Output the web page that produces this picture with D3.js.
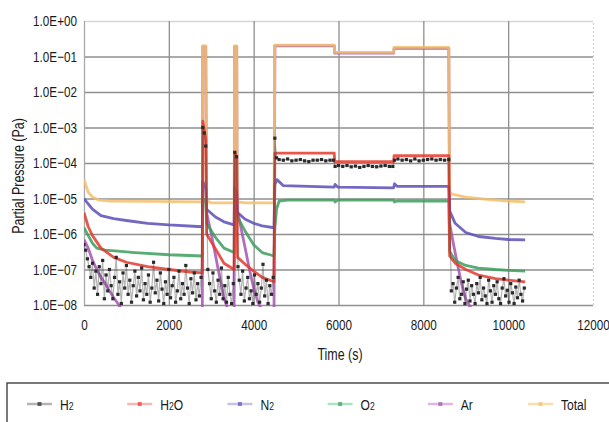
<!DOCTYPE html>
<meta charset="utf-8">
<style>
body { margin: 0; background: #fff; }
svg { font-family: "Liberation Sans", Arial, sans-serif; }
.tick text { font-size: 15px; fill: #1a1a1a; }
.grid line { stroke: #8f8f8f; stroke-width: 1.3; }
.grid path { display: none; }
.axis path { display: none; }
</style>
<body>
<script src="https://cdn.jsdelivr.net/npm/d3@7"></script>
<script>

// ---------------- data ----------------
var xTicks = [0, 2000, 4000, 6000, 8000, 10000, 12000];
var yTicks = [1, 1e-1, 1e-2, 1e-3, 1e-4, 1e-5, 1e-6, 1e-7, 1e-8];
var yTickLabels = ["1.0E+00", "1.0E\u221201", "1.0E\u221202", "1.0E\u221203", "1.0E\u221204",
                   "1.0E\u221205", "1.0E\u221206", "1.0E\u221207", "1.0E\u221208"];

var seriesNames = ["H2", "H2O", "N2", "O2", "Ar", "Total"];

var totalT = [0, 50, 100, 200, 350, 600, 1500, 2790, 2800, 2870, 2880, 3000, 3540, 3550, 3600, 3610, 3800, 4480,
              4500, 5900, 5910, 7300, 7310, 8600, 8620, 8700, 9000, 9500, 10000, 10400];
var totalV = [3.5e-5, 2.3e-5, 1.5e-5, 1.1e-5, 9e-6, 8.5e-6, 8.3e-6, 8e-6, 0.2, 0.2, 9e-6, 7.5e-6, 7.5e-6, 0.2, 0.2, 8e-6, 7.5e-6, 7.5e-6,
              0.21, 0.21, 0.13, 0.13, 0.18, 0.18, 1.5e-5, 1.3e-5, 1.1e-5, 9.5e-6, 8.5e-6, 8e-6];

var h2oT = [0, 100, 200, 400, 700, 1000, 1500, 2000, 2500, 2790, 2800, 2840, 2870, 2890, 3000, 3150, 3300, 3540,
            3550, 3600, 3620, 3800, 4000, 4200, 4480, 4500, 5900, 5910, 7300, 7310, 8600,
            8620, 8750, 9000, 9300, 9700, 10000, 10400];
var h2oV = [4e-6, 1.6e-6, 9e-7, 4e-7, 2.2e-7, 1.6e-7, 1.2e-7, 1e-7, 8.5e-8, 8e-8, 1.5e-3, 8e-4, 5e-4, 1e-6, 6e-7, 3e-7, 1.5e-7, 1e-7,
            2e-4, 1.5e-4, 2.2e-7, 1.4e-7, 9e-8, 6e-8, 4.5e-8, 1.9e-4, 1.9e-4, 1.1e-4, 1.1e-4, 1.6e-4, 1.6e-4,
            2.4e-7, 1.5e-7, 1e-7, 7e-8, 5.5e-8, 5e-8, 4.5e-8];

var n2T = [0, 100, 200, 400, 700, 1000, 1500, 2000, 2790, 2800, 2870, 2890, 3100, 3300, 3540,
           3550, 3600, 3620, 3800, 4000, 4200, 4480, 4500, 4550, 4700, 5900, 5920, 5980, 7300, 7320, 7380, 8600,
           8620, 8750, 9000, 9300, 9700, 10000, 10400];
var n2V = [1e-5, 7e-6, 5e-6, 3.3e-6, 2.7e-6, 2.4e-6, 2e-6, 1.8e-6, 1.6e-6, 3e-5, 2e-5, 5e-6, 3e-6, 2.2e-6, 1.8e-6,
           2e-5, 1.5e-5, 4e-6, 2.6e-6, 2e-6, 1.7e-6, 1.5e-6, 2.5e-5, 3.4e-5, 2.3e-5, 2.1e-5, 2.5e-5, 2.1e-5, 2e-5, 2.6e-5, 2.2e-5, 2.2e-5,
           4.5e-6, 2e-6, 1.1e-6, 8.5e-7, 7.5e-7, 7e-7, 6.8e-7];

var o2T = [0, 100, 200, 300, 500, 800, 1200, 2000, 2790, 2800, 2870, 2890, 3100, 3300, 3540,
           3550, 3600, 3620, 3800, 4000, 4200, 4480, 4500, 4540, 4600, 4800, 5900, 5920, 5980, 7300, 7320, 7380, 8600,
           8620, 8750, 9000, 9300, 9700, 10000, 10400];
var o2V = [1.5e-6, 9e-7, 5.5e-7, 4e-7, 3.5e-7, 3.3e-7, 3e-7, 2.6e-7, 2.4e-7, 1e-5, 8e-6, 2e-6, 8e-7, 4e-7, 3e-7,
           6e-6, 5e-6, 3e-6, 1.2e-6, 5e-7, 3e-7, 2.4e-7, 1.5e-6, 5e-6, 8.5e-6, 9e-6, 9e-6, 8e-6, 9e-6, 9e-6, 8e-6, 8.5e-6, 8.5e-6,
           3.3e-7, 1.8e-7, 1.3e-7, 1.1e-7, 1e-7, 9.5e-8, 9e-8];

// Ar falls below the 1e-8 floor between pulses (clipped like the original)
var arT = [0, 100, 200, 300, 400, 500, 600, 700, 800, 900, 2790, 2800, 2870,
           2890, 3000, 3100, 3200, 3300, 3400, 3540, 3550, 3600, 3610, 3700, 3800, 3900, 4000, 4100, 4200, 4480,
           4500, 5900, 5910, 7300, 7310, 8600, 8620, 8700, 8800, 8900, 9000, 9100, 9200, 10400];
var arV = [7e-7, 4e-7, 1.8e-7, 1e-7, 6e-8, 4e-8, 2.5e-8, 1.6e-8, 1.1e-8, 7e-9, 7e-9, 0.19, 0.19,
           4e-6, 1e-6, 2.5e-7, 6e-8, 1.6e-8, 7e-9, 7e-9, 0.19, 0.19, 5e-6, 1.5e-6, 4e-7, 1e-7, 3e-8, 1.2e-8, 7e-9, 7e-9,
           0.2, 0.2, 0.125, 0.125, 0.17, 0.17, 2e-6, 6e-7, 1.5e-7, 4e-8, 1.5e-8, 9e-9, 7e-9, 7e-9];

// H2 is noisy at the bottom, so it is kept as [time, value] pairs
var h2Points = [
  [0,5e-7],[40,3.5e-7],[80,2e-7],[120,1.2e-7],[160,6e-8],[200,1.5e-7],[240,3e-8],[280,9e-8],[320,2e-8],[360,1.2e-7],
  [400,4e-8],[440,1.8e-7],[480,1.5e-8],[520,7e-8],[560,2.5e-8],[600,1e-7],[640,3.5e-8],[680,1.5e-8],[720,6e-8],[760,2.2e-7],
  [800,2e-8],[840,4.5e-8],[880,1.1e-8],[920,8e-8],[960,3e-8],[1000,1.3e-7],[1040,2e-8],[1080,5e-8],[1120,1.2e-8],[1160,3.5e-8],
  [1200,9e-8],[1240,1.8e-8],[1280,6e-8],[1320,2.5e-8],[1360,1.1e-7],[1400,1.4e-8],[1440,4e-8],[1480,2e-8],[1520,7e-8],[1560,1.2e-8],
  [1600,3e-8],[1640,1.6e-7],[1680,2.2e-8],[1720,5e-8],[1760,1.3e-8],[1800,8e-8],[1840,2.8e-8],[1880,1.1e-8],[1920,4.5e-8],[1960,2e-8],
  [2000,1e-7],[2040,1.6e-8],[2080,3.5e-8],[2120,6e-8],[2160,1.2e-8],[2200,2.5e-8],[2240,9e-8],[2280,1.5e-8],[2320,4e-8],[2360,2e-8],
  [2400,1.3e-7],[2440,3e-8],[2480,1.1e-8],[2520,5.5e-8],[2560,2.2e-8],[2600,8e-8],[2640,1.4e-8],[2680,4e-8],[2720,1.8e-8],[2760,6e-8],
  [2800,1e-3],[2835,7e-4],[2870,3e-4],
  [2920,1e-7],[2960,4e-8],[3000,1.5e-8],[3040,8e-8],[3080,2.5e-8],[3120,1.2e-8],[3160,5e-8],[3200,2e-8],[3240,1.1e-7],[3280,1.5e-8],
  [3320,3.5e-8],[3360,1.2e-8],[3400,6e-8],[3440,2e-8],[3480,1.1e-8],[3520,4e-8],
  [3555,2e-4],[3595,1.5e-4],
  [3630,1.2e-7],[3660,5e-8],[3700,2e-8],[3740,9e-8],[3780,1.3e-8],[3820,3e-8],[3860,6e-8],[3900,1.5e-8],[3940,2.5e-8],[3980,1.1e-8],
  [4020,7e-8],[4060,2e-8],[4100,4e-8],[4140,1.2e-8],[4180,3e-8],[4220,1.4e-7],[4260,1.8e-8],[4300,5e-8],[4340,1.1e-8],[4380,3.5e-8],
  [4420,2e-8],[4460,6e-8],
  [4500,5e-4],[4540,1.4e-4],[4600,1.25e-4],[4700,1.2e-4],[4800,1.3e-4],[4900,1.15e-4],[5000,1.2e-4],[5100,1.25e-4],[5200,1.15e-4],
  [5300,1.1e-4],[5400,1.2e-4],[5500,1.2e-4],[5600,1.25e-4],[5700,1.15e-4],[5800,1.2e-4],[5880,1.2e-4],
  [5920,8e-5],[6000,8.5e-5],[6100,8e-5],[6200,8.5e-5],[6300,7.8e-5],[6400,8.2e-5],[6500,7.5e-5],[6600,8e-5],[6700,8.5e-5],
  [6800,8e-5],[6900,7.8e-5],[7000,8.2e-5],[7100,8.5e-5],[7200,8e-5],[7280,8e-5],
  [7320,1.2e-4],[7400,1.3e-4],[7500,1.2e-4],[7600,1.25e-4],[7700,1.15e-4],[7800,1.3e-4],[7900,1.15e-4],[8000,1.2e-4],
  [8100,1.25e-4],[8200,1.3e-4],[8300,1.2e-4],[8400,1.25e-4],[8500,1.2e-4],[8600,1.25e-4],
  [8660,2.5e-8],[8700,4e-8],[8740,1.2e-8],[8780,3e-8],[8820,6e-8],[8860,1.5e-8],[8900,2e-8],[8940,4.5e-8],[8980,1.1e-8],[9020,2.8e-8],
  [9060,5e-8],[9100,1.3e-8],[9140,3.5e-8],[9180,2e-8],[9220,1.1e-8],[9260,4e-8],[9300,2.2e-8],[9340,6e-8],[9380,1.4e-8],[9420,3e-8],
  [9460,1.8e-8],[9500,1.1e-8],[9540,5e-8],[9580,2.5e-8],[9620,1.2e-8],[9660,3.5e-8],[9700,2e-8],[9740,4.5e-8],[9780,1.5e-8],[9820,1.1e-8],
  [9860,3e-8],[9900,5.5e-8],[9940,1.8e-8],[9980,2.6e-8],[10020,1.2e-8],[10060,4e-8],[10100,2.2e-8],[10140,1.1e-8],[10180,3.2e-8],[10220,1.6e-8],
  [10260,5e-8],[10300,2e-8],[10340,1.3e-8],[10380,3e-8]
];

var colors = {H2: "#2a2a2a", H2O: "#e4392c", N2: "#5a4fb8", O2: "#3b9d5c", Ar: "#a553b4", Total: "#f3c06c"};
var legendLine = {H2: "#b4b4b4", H2O: "#f6b8b2", N2: "#c8c3e6", O2: "#aee0c2", Ar: "#ddb6e2", Total: "#f9deae"};

// ---------------- chart ----------------
var W = 609, H = 422;
var narrow = "scale(0.78,1)";   // stand-in for a condensed face
var x = d3.scaleLinear().domain([0, 12000]).range([84, 593]);
var y = d3.scaleLog().domain([1e-8, 1]).range([305, 21]);

var svg = d3.select("body").append("svg")
    .attr("width", W)
    .attr("height", H);

svg.append("clipPath").attr("id", "clip")
  .append("rect")
    .attr("x", 84).attr("y", 19)
    .attr("width", 593 - 84).attr("height", 305 - 19 + 2);

function zip(t, v) { return t.map(function(d, i) { return [d, v[i]]; }); }

// grid
svg.append("g")
    .attr("class", "grid")
    .attr("transform", "translate(84,0)")
    .call(d3.axisLeft(y).tickValues(yTicks).tickSize(-(593 - 84)).tickFormat(""))
    .selectAll("line")
    .style("stroke", function(d) { return d === 1 ? "#d6d6d6" : null; });

svg.append("g")
    .attr("class", "grid")
    .attr("transform", "translate(0,305)")
    .call(d3.axisBottom(x).tickValues(xTicks).tickSize(-(305 - 21)).tickFormat(""))
    .selectAll("line")
    .style("stroke", function(d) { return d === 12000 ? "#d2d2d2" : (d === 0 ? "#a8a8a8" : null); })
    .style("stroke-dasharray", function(d) { return d === 12000 ? "2,2" : null; });

// axes
svg.append("g")
    .attr("class", "axis")
    .attr("transform", "translate(84,0)")
    .call(d3.axisLeft(y).tickValues(yTicks).tickSize(0).tickPadding(9)
      .tickFormat(function(d, i) { return yTickLabels[i]; }))
    .selectAll("text")
    .attr("transform", narrow);

svg.append("g")
    .attr("class", "axis")
    .attr("transform", "translate(0,305)")
    .call(d3.axisBottom(x).tickValues(xTicks).tickSize(0).tickPadding(14).tickFormat(d3.format("d")))
    .selectAll("text")
    .attr("transform", narrow);

svg.append("text")
    .attr("transform", "translate(24,176) rotate(-90) " + narrow)
    .attr("text-anchor", "middle")
    .style("font-size", "16px")
    .style("fill", "#1a1a1a")
    .text("Partial Pressure (Pa)");

svg.append("text")
    .attr("transform", "translate(340,360) " + narrow)
    .attr("text-anchor", "middle")
    .style("font-size", "16px")
    .style("fill", "#1a1a1a")
    .text("Time (s)");

// lines
var line = d3.line()
    .x(function(d) { return x(d[0]); })
    .y(function(d) { return y(d[1]); });

var plot = svg.append("g").attr("clip-path", "url(#clip)");

var drawOrder = [
  ["Ar", zip(arT, arV)],
  ["Total", zip(totalT, totalV)],
  ["O2", zip(o2T, o2V)],
  ["N2", zip(n2T, n2V)],
  ["H2O", zip(h2oT, h2oV)]
];

drawOrder.forEach(function(s) {
  plot.append("path")
      .datum(s[1])
      .attr("fill", "none")
      .attr("stroke", colors[s[0]])
      .attr("stroke-width", 2.8)
      .attr("stroke-opacity", 0.85)
      .attr("stroke-linejoin", "round")
      .attr("d", line);
});

plot.append("path")
    .datum(h2Points)
    .attr("fill", "none")
    .attr("stroke", "#444")
    .attr("stroke-width", 1.2)
    .attr("stroke-opacity", 0.4)
    .attr("d", line);

plot.selectAll(".h2pt")
    .data(h2Points)
  .enter().append("rect")
    .attr("class", "h2pt")
    .attr("x", function(d) { return x(d[0]) - 1.6; })
    .attr("y", function(d) { return y(d[1]) - 1.6; })
    .attr("width", 3.2)
    .attr("height", 3.2)
    .attr("fill", colors.H2);

// legend
svg.append("rect")
    .attr("x", 7)
    .attr("y", 383)
    .attr("width", 620)
    .attr("height", 60)
    .attr("fill", "none")
    .attr("stroke", "#333")
    .attr("stroke-width", 1.3);

var legX = d3.scalePoint().domain(seriesNames).range([27, 528]);

var leg = svg.selectAll(".leg")
    .data(seriesNames)
  .enter().append("g")
    .attr("class", "leg")
    .attr("transform", function(d) { return "translate(" + legX(d) + ",404)"; });

leg.append("line")
    .attr("x1", 0).attr("x2", 25)
    .attr("stroke", function(d) { return legendLine[d]; })
    .attr("stroke-width", 2.5);

leg.append("rect")
    .attr("x", 10.5).attr("y", -2)
    .attr("width", 4).attr("height", 4)
    .attr("fill", function(d) { return colors[d]; })
    .attr("opacity", 0.7);

leg.append("text")
    .attr("transform", "translate(33,5.5) " + narrow)
    .style("font-size", "15.5px")
    .style("fill", "#1a1a1a")
    .each(function(d) {
      var t = d3.select(this);
      var m = d.match(/^([A-Za-z]+)(2)?(.*)$/);
      t.append("tspan").text(m[1]);
      if (m[2]) {
        t.append("tspan").style("font-size", "11px").text(m[2]);
        if (m[3]) t.append("tspan").text(m[3]);
      }
    });

</script>
</body>
